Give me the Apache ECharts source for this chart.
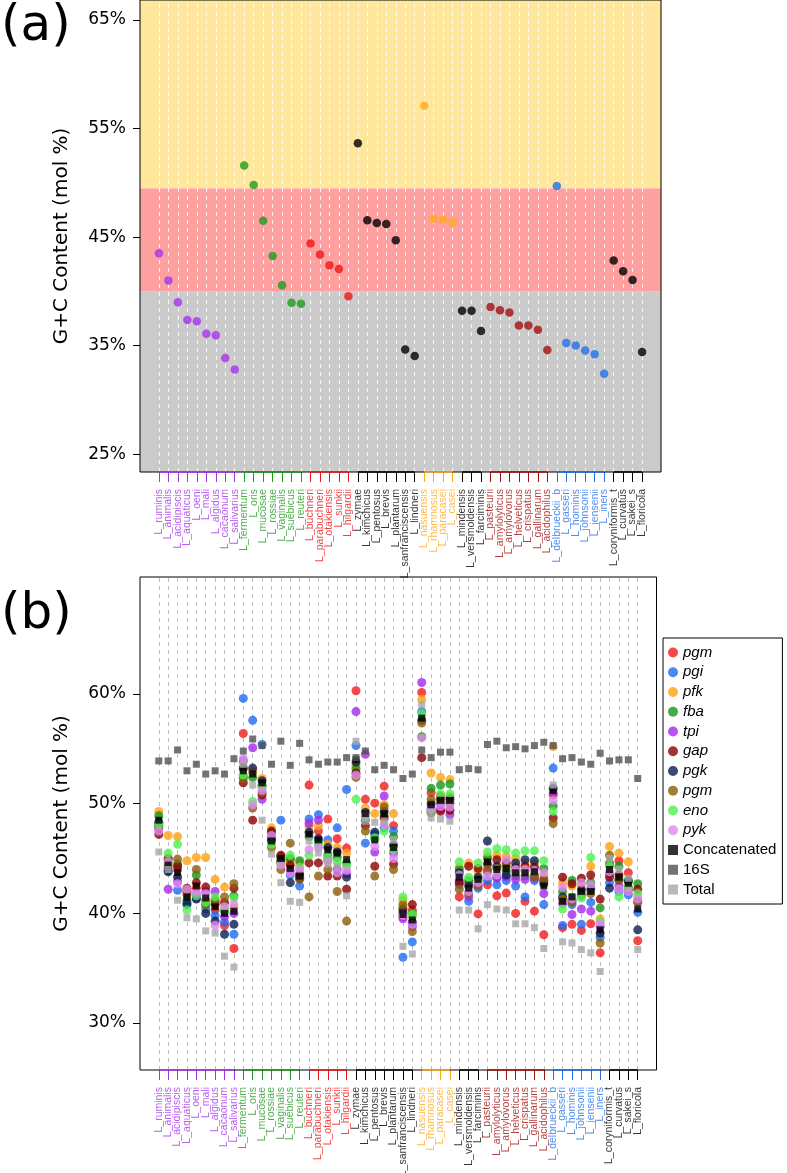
<!DOCTYPE html>
<html><head><meta charset="utf-8">
<script src="https://cdn.jsdelivr.net/npm/echarts@6/dist/echarts.min.js"></script>
<style>html,body{margin:0;padding:0;background:#fff}#c{width:787px;height:1173px}</style>
</head><body><div id="c"></div>
<script>
// ---------------- DATA ----------------
const species = ['L_ruminis','L_animalis','L_acidipiscis','L_aquaticus','L_oeni','L_mali','L_algidus','L_cacaonum','L_salivarius','L_fermentum','L_oris','L_mucosae','L_rossiae','L_vaginalis','L_suebicus','L_reuteri','L_buchneri','L_parabuchneri','L_otakiensis','L_sunkii','L_hilgardii','L_zymae','L_kimchicus','L_pentosus','L_brevis','L_plantarum','L_sanfranciscensis','L_lindneri','L_nasuensis','L_rhamnosus','L_paracasei','L_casei','L_mindensis','L_versmoldensis','L_farciminis','L_pasteurii','L_amylolyticus','L_amylovorus','L_helveticus','L_crispatus','L_gallinarum','L_acidophilus','L_delbrueckii_b','L_gasseri','L_hominis','L_johnsonii','L_jensenii','L_iners','L_coryniformis_t','L_curvatus','L_sakei_s','L_floricola'];
const clade = [0,0,0,0,0,0,0,0,0, 1,1,1,1,1,1,1, 2,2,2,2,2, 3,3,3,3,3,3,3, 4,4,4,4, 3,3,3, 5,5,5,5,5,5,5, 6,6,6,6,6,6, 3,3,3,3];

// panel (a): genome G+C content
const gcGenome = [43.5,41.0,39.0,37.35,37.25,36.1,35.95,33.85,32.8, 51.6,49.8,46.5,43.25,40.55,38.95,38.85, 44.4,43.4,42.4,42.05,39.55, 53.65,46.55,46.3,46.2,44.7,34.65,34.05, 57.1,46.7,46.6,46.35, 38.2,38.2,36.35, 38.55,38.25,38.05,36.85,36.85,36.45,34.6, 49.7,35.25,35.0,34.55,34.2,32.4, 42.85,41.85,41.05,34.4];
const bandLimits = [40, 49.5];
const yTicksA = [25,35,45,55,65];
const yTicksB = [30,40,50,60];

// panel (b): per-gene G+C content
const geneLabels = ['pgm','pgi','pfk','fba','tpi','gap','pgk','pgm','eno','pyk'];
const extraLabels = ['Concatenated','16S','Total'];
const pgmA = [48.0,44.2,44.0,41.7,42.3,41.2,40.3,38.9,36.8, 56.4,52.9,51.6,46.9,45.2,44.9,43.6, 51.7,47.5,48.6,46.8,45.95, 60.3,50.4,50.05,51.6,48.0,39.7,40.3, 60.15,51.0,50.7,50.6, 41.5,42.8,39.95, 42.6,41.6,41.85,40.0,41.1,40.2,38.05, 50.8,38.7,39.0,38.45,39.05,36.4, 44.4,44.8,43.7,37.5];
const pgi = [48.2,43.9,42.1,40.8,41.4,40.4,39.8,39.2,38.1, 59.6,57.6,55.4,46.5,48.5,43.5,42.5, 48.6,49.0,46.7,47.8,51.3, 55.3,46.4,47.2,47.8,47.5,36.0,37.4, 58.4,49.4,50.0,50.1, 42.6,41.1,42.3, 43.0,42.6,43.0,42.5,41.5,43.0,40.8, 53.25,38.9,40.8,39.0,41.0,37.8, 42.8,42.0,41.7,40.1];
const pfk = [49.3,47.1,47.0,44.8,45.1,45.1,43.1,42.4,40.5, 53.4,53.0,52.3,47.8,44.7,44.5,44.6, 47.9,48.0,46.3,46.0,45.5, 53.5,49.6,49.1,49.9,49.1,41.2,39.7, 59.5,52.8,52.4,52.2, 44.2,44.6,43.8, 45.2,45.3,45.2,45.0,44.6,44.5,43.4, 55.2,42.8,42.5,42.6,44.3,39.5, 46.1,45.5,44.7,41.5];
const fba = [48.9,44.5,44.5,41.2,43.5,40.8,41.0,40.2,41.6, 52.5,52.4,51.7,47.4,45.1,45.0,44.8, 47.0,46.5,45.3,45.1,44.6, 53.2,48.5,46.8,48.9,47.0,40.5,40.0, 56.1,51.4,51.7,51.8, 44.0,43.0,43.0, 45.0,43.3,43.9,43.4,43.4,43.5,44.1, 49.8,42.0,43.0,41.8,42.8,40.5, 44.6,44.3,43.0,42.7];
const tpi = [47.7,42.2,42.9,42.0,41.7,42.0,42.0,39.7,40.0, 53.9,55.1,50.4,47.0,44.6,43.9,43.3, 48.2,48.5,44.9,44.0,43.6, 58.4,54.5,45.6,50.7,45.5,39.5,38.8, 61.05,49.6,49.5,49.0, 43.0,41.5,42.6, 43.8,43.2,43.3,43.1,43.1,43.2,41.8, 51.0,40.9,39.9,40.4,40.2,38.8, 43.6,42.5,42.1,41.1];
const gap = [47.2,45.0,44.3,42.3,42.8,42.4,40.8,41.0,42.3, 51.9,48.5,50.8,47.5,45.3,44.4,43.5, 44.6,44.6,43.4,43.4,42.2, 52.8,48.0,44.3,48.7,44.5,40.3,40.8, 54.2,49.2,49.3,49.4, 42.8,44.3,44.1, 44.5,44.9,44.6,44.2,44.3,44.2,43.0, 48.7,43.3,42.7,43.2,43.5,41.3, 43.3,43.5,42.2,42.2];
const pgk = [48.3,43.8,43.3,40.9,41.3,40.0,39.3,38.1,39.0, 53.2,53.25,52.1,46.7,44.8,42.8,43.2, 47.4,46.8,46.0,45.6,43.3, 53.8,49.2,47.4,49.3,46.2,40.0,39.2, 57.6,50.0,50.4,50.4, 43.7,42.5,43.3, 46.6,44.3,43.5,44.6,44.9,44.8,42.7, 51.4,41.5,41.2,42.15,42.2,38.2, 42.3,43.1,42.9,38.5];
const pgmB = [47.9,44.9,44.95,42.0,44.0,40.8,41.2,41.5,42.7, 52.3,49.6,51.0,46.0,44.0,46.4,43.1, 41.5,43.4,44.0,42.0,39.3, 52.4,47.5,43.4,49.7,44.0,40.8,38.35, 57.35,50.4,50.2,50.0, 42.2,41.8,42.5, 44.0,44.1,44.3,43.8,43.9,43.3,43.1, 48.2,41.3,41.0,41.6,41.8,37.3, 45.3,43.0,42.4,41.0];
const eno = [48.1,45.5,46.3,40.3,41.6,41.0,41.5,40.4,41.4, 52.6,50.2,51.5,46.3,44.5,45.3,44.2, 45.3,46.2,45.1,44.7,44.3, 50.4,48.8,46.9,47.5,45.8,41.5,39.9, 58.2,49.3,50.9,50.9, 44.7,43.3,44.6, 45.6,45.9,45.8,45.5,45.7,45.7,44.8, 49.3,40.4,41.5,41.4,45.1,39.3, 44.3,41.5,42.3,41.8];
const pyk = [47.5,44.7,42.7,42.2,41.9,41.8,38.9,40.6,40.8, 54.1,49.9,51.2,47.1,44.4,43.7,44.0, 45.8,46.0,44.7,43.7,43.9, 52.6,49.0,46.1,48.1,45.0,39.8,39.0, 56.0,49.5,49.75,49.7, 43.5,42.0,42.8, 43.4,43.5,44.9,44.0,44.0,43.9,43.7, 50.3,42.4,41.3,42.8,42.6,39.1, 43.8,42.2,42.0,41.3];
const concatenated = [48.5,44.4,43.7,41.5,42.5,41.4,40.6,40.0,40.2, 53.0,52.7,51.9,46.6,45.0,44.1,43.4, 47.2,46.7,45.8,45.5,44.9, 54.0,49.1,46.7,49.1,46.0,39.9,39.4, 57.8,49.9,50.3,50.3, 43.3,42.3,43.1, 44.7,44.0,44.1,43.7,43.7,43.8,42.5, 51.2,41.1,41.5,42.0,42.0,38.5, 44.0,43.3,42.75,40.4];
const rRNA16S = [53.9,53.9,54.9,53.0,53.6,52.7,53.0,52.7,54.1, 54.8,55.9,55.3,53.6,55.7,53.5,55.5, 54.0,53.6,53.8,53.8,54.2, 54.2,54.8,53.1,53.5,53.1,52.3,52.7, 54.9,54.2,54.7,54.7, 53.1,53.2,53.1, 55.4,55.7,55.1,55.2,55.0,55.3,55.6, 55.3,54.1,54.2,53.8,53.6,54.6, 53.9,54.0,54.0,52.3];
const totalB = [45.6,44.0,41.2,39.6,39.5,38.4,38.2,36.1,35.1, 53.6,51.7,48.5,45.4,42.8,41.1,41.0, 46.6,45.5,44.5,44.3,41.6, 55.7,48.4,48.3,48.4,46.7,37.0,36.3, 59.0,48.7,48.6,48.4, 40.3,40.3,38.6, 40.8,40.4,40.3,39.05,39.05,38.7,36.8, 51.7,37.4,37.3,36.7,36.4,34.7, 45.0,44.0,43.2,36.7];

const geneSeriesData = [pgmA,pgi,pfk,fba,tpi,gap,pgk,pgmB,eno,pyk];
const extraSeriesData = [concatenated,rRNA16S,totalB];

// ---------------- STYLE ----------------
const cladeColors = ['#A633EE','#1E9A1E','#F01515','#000000','#FFAA1A','#A50F0F','#2171E8'];
const bandColors = ['#CBCBCB','#FFA0A0','#FFE89E'];
const geneColors = ['#F21B1B','#1E6BF0','#FFA010','#179617','#A528EC','#8B0000','#0B1E50','#8B5E0A','#50F050','#DD8AEE'];
const extraColors = ['#000000','#505050','#A8A8A8'];
const sansR = 'Liberation Sans, Arial, sans-serif';
const sansD = 'DejaVu Sans, Verdana, sans-serif';

const yA = {min: 23.35, max: 66.85};
const yB = {min: 25.72, max: 70.67};
const PAD = 2; // empty category slots on each side (axis padding)

const chart = echarts.init(document.getElementById('c'), null, {renderer: 'canvas'});

const padL = Array.from({length: PAD}, (_, k) => ' '.repeat(k + 1));
const padR = Array.from({length: PAD}, (_, k) => ' '.repeat(k + 1 + PAD));
const catData = [...padL, ...species, ...padR];
const pos = i => i + PAD;   // category slot of species i
const isSpecies = ix => ix >= PAD && ix < PAD + species.length;
const runs = [];
clade.forEach((c, i) => {
  if (i === 0 || clade[i-1] !== c) runs.push({c, a: i, b: i}); else runs[runs.length-1].b = i;
});

const grids = [
  {left: 140, top: 0, width: 521, height: 472, show: true, borderColor: '#000', borderWidth: 1, backgroundColor: 'transparent', z: 10},
  {left: 140, top: 577, width: 516.5, height: 493, show: true, borderColor: '#000', borderWidth: 1, backgroundColor: 'transparent', z: 10}
];

const xAxes = [];
const yAxes = [];
[0, 1].forEach(g => {
  xAxes.push({type: 'category', data: catData, boundaryGap: false, gridIndex: g, position: 'bottom',
    axisLine: {show: false, onZero: false}, axisTick: {show: false}, axisLabel: {show: false}, splitLine: {show: false}});
  cladeColors.forEach((col, c) => {
    const keep = ix => isSpecies(ix) && clade[ix - PAD] === c;
    xAxes.push({type: 'category', data: catData, boundaryGap: false, gridIndex: g, position: 'bottom',
      axisLine: {show: false, onZero: false}, splitLine: {show: false}, axisLabel: {show: false},
      axisTick: {show: true, interval: keep, length: 10, lineStyle: {color: col, width: 1}}});
  });
});
const ticks = [yTicksA, yTicksB];
[yA, yB].forEach((r, g) => {
  yAxes.push({type: 'value', gridIndex: g, min: r.min, max: r.max, position: 'left',
    axisLine: {show: false, onZero: false}, splitLine: {show: false},
    axisTick: {show: true, customValues: ticks[g], length: 7, lineStyle: {color: '#000'}},
    axisLabel: {show: true, customValues: ticks[g], showMinLabel: true, showMaxLabel: true, formatter: v => v + '%', color: '#000', fontSize: 17, fontFamily: sansD, margin: 14},
    name: 'G+C Content (mol %)', nameLocation: 'middle', nameGap: 68,
    nameTextStyle: {fontSize: 20, fontFamily: sansD, color: '#000'}});
});
const xMain = [0, 1 + cladeColors.length];

const series = [];
const bandEdges = [yA.min, ...bandLimits, yA.max];
series.push({type: 'scatter', xAxisIndex: 0, yAxisIndex: 0, data: [], z: 1, silent: true,
  markArea: {silent: true, data: bandColors.map((col, k) => [{yAxis: bandEdges[k], itemStyle: {color: col}}, {yAxis: bandEdges[k+1]}])}});
[0, 1].forEach(g => {
  series.push({type: 'scatter', xAxisIndex: xMain[g], yAxisIndex: g, data: [], z: 2, silent: true,
    markLine: {silent: true, symbol: ['none','none'], label: {show: false}, animation: false,
      lineStyle: {type: [4, 4], width: 1, color: g === 0 ? 'rgba(255,255,255,0.85)' : '#BEBEBE'},
      data: species.map((_, i) => ({xAxis: pos(i)}))}});
});
// coloured clade segments + species name labels under each panel
[0, 1].forEach(g => {
  const yr = g === 0 ? yA : yB;
  runs.forEach(r => {
    series.push({type: 'line', xAxisIndex: xMain[g], yAxisIndex: g, clip: false, symbol: 'none', silent: true,
      z: 12, lineStyle: {color: cladeColors[r.c], width: 1.3}, data: [[pos(r.a), yr.min], [pos(r.b), yr.min]]});
  });
  series.push({type: 'scatter', xAxisIndex: xMain[g], yAxisIndex: g, clip: false, silent: true, z: 12,
    symbolSize: 0,
    label: {show: true, position: 'bottom', distance: 17, rotate: 90, align: 'right', verticalAlign: 'middle',
      fontSize: 10.5, fontFamily: sansR, formatter: p => species[p.dataIndex]},
    data: species.map((s, i) => ({value: [pos(i), yr.min], label: {color: cladeColors[clade[i]]}}))});
});
series.push({type: 'scatter', xAxisIndex: 0, yAxisIndex: 0, z: 5, symbolSize: 8.5,
  data: gcGenome.map((v, i) => ({value: [pos(i), v], itemStyle: {color: cladeColors[clade[i]]}}))});
const seriesKeys = geneLabels.map((n, k) => n + (k === 7 ? ' ' : ''));
geneSeriesData.forEach((arr, k) => {
  series.push({type: 'scatter', name: seriesKeys[k], xAxisIndex: xMain[1], yAxisIndex: 1, z: 5,
    symbol: 'circle', symbolSize: 9, itemStyle: {color: geneColors[k]},
    data: arr.map((v, i) => [pos(i), v])});
});
extraSeriesData.forEach((arr, k) => {
  series.push({type: 'scatter', name: extraLabels[k], xAxisIndex: xMain[1], yAxisIndex: 1, z: 6,
    symbol: 'rect', symbolSize: 7, itemStyle: {color: extraColors[k]},
    data: arr.map((v, i) => [pos(i), v])});
});

const option = {
  animation: false,
  backgroundColor: '#fff',
  title: [
    {text: '(a)', left: 1, top: 2, padding: 0, textStyle: {fontSize: 50, fontWeight: 'normal', fontFamily: sansD, color: '#000'}},
    {text: '(b)', left: 1, top: 590, padding: 0, textStyle: {fontSize: 50, fontWeight: 'normal', fontFamily: sansD, color: '#000'}}
  ],
  grid: grids,
  xAxis: xAxes,
  yAxis: yAxes,
  legend: {
    orient: 'vertical', left: 663, top: 638, itemGap: 4.75, itemWidth: 10, itemHeight: 10,
    borderColor: '#000', borderWidth: 1, padding: [7, 6, 7, 5], borderRadius: 0,
    data: [...seriesKeys.map(n => ({name: n, icon: 'circle'})), ...extraLabels.map(n => ({name: n, icon: 'rect'}))],
    formatter: n => geneLabels.includes(n.trim()) ? '{i|' + n.trim() + '}' : n,
    textStyle: {fontSize: 15, fontFamily: sansR, color: '#000', rich: {i: {fontStyle: 'italic', fontSize: 15, fontFamily: sansR}}},
    selectedMode: false
  },
  series
};
chart.setOption(option);
</script></body></html>
